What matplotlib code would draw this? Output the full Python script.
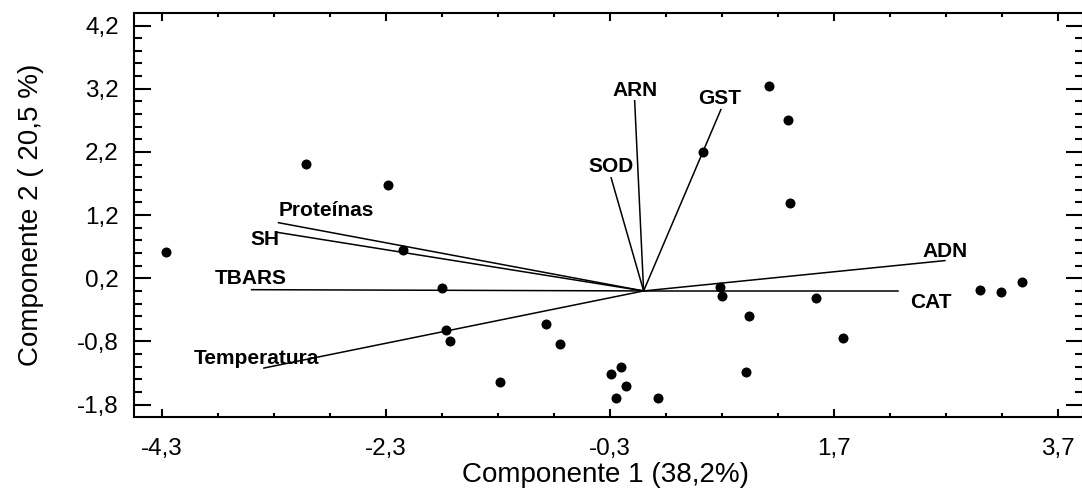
import matplotlib.pyplot as plt
from matplotlib.ticker import FixedLocator
import numpy as np

# scores of the samples on the first two components
pc1 = [-4.26, -3.01, -2.28, -2.15, -1.80, -1.76, -1.73, -1.28, -0.87, -0.75,
       -0.29, -0.20, -0.16, -0.25, 0.13, 0.53, 0.68, 0.70, 0.94, 0.91,
       1.12, 1.29, 1.31, 1.54, 1.78, 3.00, 3.19, 3.38]
pc2 = [0.61, 2.01, 1.67, 0.65, 0.05, -0.62, -0.80, -1.44, -0.52, -0.84,
       -1.31, -1.21, -1.50, -1.69, -1.69, 2.20, 0.06, -0.08, -0.40, -1.28,
       3.25, 2.71, 1.39, -0.11, -0.74, 0.02, -0.01, 0.14]

# variable loadings (vectors from the origin)
variables = ['Proteínas', 'SH', 'TBARS', 'Temperatura', 'ARN', 'GST', 'SOD', 'ADN', 'CAT']
load_x = [-3.26, -3.28, -3.50, -3.39, -0.08, 0.69, -0.29, 2.69, 2.27]
load_y = [1.08, 0.93, 0.02, -1.22, 3.01, 2.87, 1.79, 0.48, 0.00]

# where each variable name is written (left edge, vertical centre)
label_x = [-3.26, -3.51, -3.83, -4.02, -0.28, 0.49, -0.49, 2.49, 2.38]
label_y = [1.27, 0.81, 0.20, -1.07, 3.17, 3.04, 1.97, 0.62, -0.18]

xticks = [-4.3, -2.3, -0.3, 1.7, 3.7]
yticks = [-1.8, -0.8, 0.2, 1.2, 2.2, 3.2, 4.2]

plt.rcParams['font.family'] = ['Liberation Sans', 'DejaVu Sans']

fig = plt.figure(figsize=(10.82, 4.91), dpi=100)
ax = fig.add_axes([134 / 1082, 74.3 / 491, 949 / 1082, 403.7 / 491])

for vx, vy in zip(load_x, load_y):
    ax.plot([0, vx], [0, vy], color='black', lw=1.1, zorder=2)
for name, tx, ty in zip(variables, label_x, label_y):
    ax.text(tx, ty, name, ha='left', va='center', fontsize=15, fontweight='bold')

ax.scatter(pc1, pc2, s=52, color='black', zorder=3, linewidths=0)

ax.set_xlim(-4.55, 3.923)
ax.set_ylim(-1.99, 4.398)

ax.xaxis.set_major_locator(FixedLocator(xticks))
ax.xaxis.set_minor_locator(FixedLocator(np.arange(-4.3, 3.75, 0.5)))
ax.yaxis.set_major_locator(FixedLocator(yticks))
ax.yaxis.set_minor_locator(FixedLocator(np.arange(-1.8, 4.25, 0.2)))
ax.set_xticklabels([('%.1f' % v).replace('.', ',') for v in xticks])
ax.set_yticklabels([('%.1f' % v).replace('.', ',') for v in yticks])

ax.tick_params(axis='both', which='both', direction='in', top=True, right=True,
               width=1.5, color='black', labelsize=17.5)
ax.tick_params(axis='x', which='major', length=6, pad=15)
ax.tick_params(axis='x', which='minor', length=3)
ax.tick_params(axis='y', which='major', length=12.5, pad=11)
ax.tick_params(axis='y', which='minor', length=6)
for sp in ax.spines.values():
    sp.set_linewidth(1.5)

ax.set_xlabel('Componente 1 (38,2%)', fontsize=20)
ax.set_ylabel('Componente 2 ( 20,5 %)', fontsize=20)
ax.xaxis.set_label_coords(0.497, -0.112)
ax.yaxis.set_label_coords(-0.095, 0.5)

fig.savefig('out.png', dpi=100)
